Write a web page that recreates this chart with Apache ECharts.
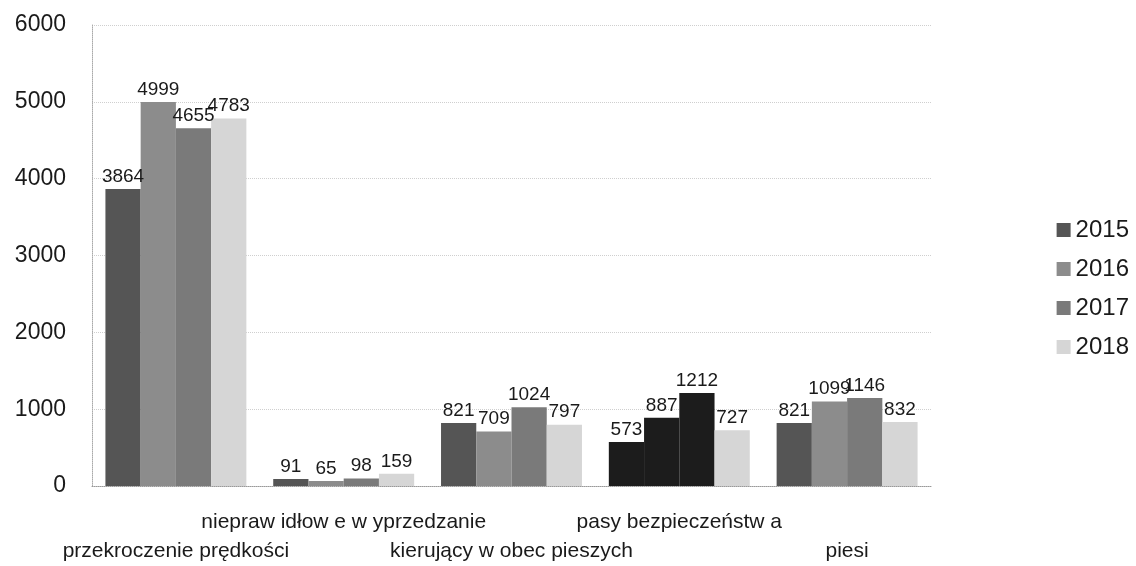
<!DOCTYPE html>
<html>
<head>
<meta charset="utf-8">
<script src="https://cdn.jsdelivr.net/npm/echarts@6/dist/echarts.min.js"></script>
<style>
  html, body { margin: 0; padding: 0; background: #fff; }
  #main { width: 1136px; height: 566px; }
</style>
</head>
<body>
<div id="main"></div>
<script>
var categories = [
  'przekroczenie prędkości',
  'niepraw idłow e w yprzedzanie',
  'kierujący w obec pieszych',
  'pasy bezpieczeństw a',
  'piesi'
];
var years = ['2015', '2016', '2017', '2018'];
var v2015 = [3864, 91, 821, 573, 821];
var v2016 = [4999, 65, 709, 887, 1099];
var v2017 = [4655, 98, 1024, 1212, 1146];
var v2018 = [4783, 159, 797, 727, 832];
var yTicks = [0, 1000, 2000, 3000, 4000, 5000, 6000];

var colors = ['#555555', '#8c8c8c', '#7a7a7a', '#d6d6d6'];
var allValues = [v2015, v2016, v2017, v2018];

// the scan shows the seatbelt group blacked out for the first three years
function buildData(vals, s) {
  return vals.map(function (v, i) {
    if (i === 3 && s < 3) {
      return { value: v, itemStyle: { color: '#1c1c1c' } };
    }
    return v;
  });
}

var series = years.map(function (y, s) {
  return {
    name: y,
    type: 'bar',
    barGap: 0,
    barCategoryGap: '16%',
    itemStyle: { color: colors[s] },
    label: {
      show: true,
      position: 'top',
      distance: 3,
      fontFamily: 'Liberation Sans',
      fontSize: 19,
      color: '#1a1a1a'
    },
    data: buildData(allValues[s], s)
  };
});

var myChart = echarts.init(document.getElementById('main'));
myChart.setOption({
  animation: false,
  backgroundColor: '#fff',
  textStyle: { fontFamily: 'Liberation Sans' },
  grid: { left: 92, right: 205, top: 25, bottom: 79 },
  legend: {
    orient: 'vertical',
    right: 2,
    top: 213,
    itemWidth: 14,
    itemHeight: 14,
    itemGap: 15,
    icon: 'rect',
    textStyle: { fontSize: 24, color: '#1a1a1a', fontFamily: 'Liberation Sans' },
    data: years
  },
  xAxis: {
    type: 'category',
    data: categories,
    axisLine: { lineStyle: { color: '#999', type: 'dotted' } },
    axisTick: { show: false },
    axisLabel: {
      interval: 0,
      margin: 22,
      fontSize: 21,
      color: '#1a1a1a',
      lineHeight: 29,
      formatter: function (v, i) { return i % 2 === 0 ? '\n' + v : v; }
    }
  },
  yAxis: {
    type: 'value',
    min: yTicks[0],
    max: yTicks[yTicks.length - 1],
    interval: 1000,
    axisLine: { show: true, lineStyle: { color: '#aaa', type: 'dotted' } },
    axisTick: { show: false },
    axisLabel: {
      fontSize: 23,
      color: '#1a1a1a',
      margin: 26,
      formatter: function (v) { return String(v); }
    },
    splitLine: { lineStyle: { color: '#cfcfcf', type: 'dotted' } }
  },
  series: series
});
</script>
</body>
</html>
